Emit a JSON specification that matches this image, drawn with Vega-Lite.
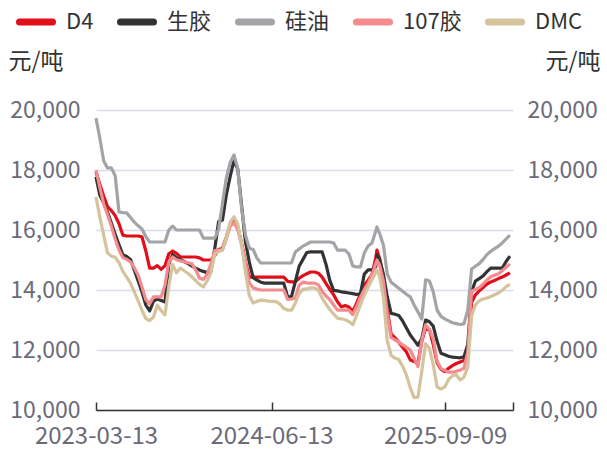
{
  "$schema": "https://vega.github.io/schema/vega-lite/v6.json",
  "width": 417,
  "height": 300,
  "autosize": {"type": "none"},
  "padding": {"left": 96, "top": 110, "right": 94, "bottom": 42},
  "background": "white",
  "config": {
    "view": {"stroke": null},
    "font": "Noto Sans CJK SC",
    "axis": {"labelFont": "Noto Sans CJK SC", "titleFont": "Noto Sans CJK SC"},
    "legend": {"labelFont": "Noto Sans CJK SC"}
  },
  "data": {
    "values": [
      {"date": "2023-03-13", "D4": 17930, "生胶": 17770, "硅油": 19730, "107胶": 18000, "DMC": 17100},
      {"date": "2023-03-23", "D4": 17520, "生胶": 17160, "硅油": 19060, "107胶": 17420, "DMC": 16430},
      {"date": "2023-04-02", "D4": 17130, "生胶": 16910, "硅油": 18310, "107胶": 16870, "DMC": 15830},
      {"date": "2023-04-12", "D4": 16780, "生胶": 16600, "硅油": 18070, "107胶": 16520, "DMC": 15240},
      {"date": "2023-04-22", "D4": 16650, "生胶": 16230, "硅油": 18070, "107胶": 16130, "DMC": 15130},
      {"date": "2023-05-02", "D4": 16480, "生胶": 15860, "硅油": 17810, "107胶": 15700, "DMC": 15090},
      {"date": "2023-05-12", "D4": 16210, "生胶": 15510, "硅油": 16600, "107胶": 15330, "DMC": 14910},
      {"date": "2023-05-22", "D4": 15830, "生胶": 15180, "硅油": 16580, "107胶": 15080, "DMC": 14620},
      {"date": "2023-06-01", "D4": 15800, "生胶": 15120, "硅油": 16570, "107胶": 15020, "DMC": 14430},
      {"date": "2023-06-11", "D4": 15800, "生胶": 15020, "硅油": 16420, "107胶": 14940, "DMC": 14230},
      {"date": "2023-06-21", "D4": 15800, "生胶": 14660, "硅油": 16260, "107胶": 14740, "DMC": 13940},
      {"date": "2023-07-01", "D4": 15800, "生胶": 14300, "硅油": 16140, "107胶": 14490, "DMC": 13640},
      {"date": "2023-07-11", "D4": 15770, "生胶": 13930, "硅油": 16030, "107胶": 14100, "DMC": 13320},
      {"date": "2023-07-21", "D4": 15300, "生胶": 13500, "硅油": 15780, "107胶": 13680, "DMC": 13050},
      {"date": "2023-07-31", "D4": 14730, "生胶": 13300, "硅油": 15600, "107胶": 13540, "DMC": 12980},
      {"date": "2023-08-10", "D4": 14730, "生胶": 13630, "硅油": 15600, "107胶": 13770, "DMC": 13100},
      {"date": "2023-08-20", "D4": 14810, "生胶": 13700, "硅油": 15600, "107胶": 13770, "DMC": 13490},
      {"date": "2023-08-30", "D4": 14690, "生胶": 13650, "硅油": 15600, "107胶": 13770, "DMC": 13310},
      {"date": "2023-09-09", "D4": 14810, "生胶": 13600, "硅油": 15600, "107胶": 14170, "DMC": 13170},
      {"date": "2023-09-19", "D4": 15210, "生胶": 14870, "硅油": 16000, "107胶": 14930, "DMC": 14130},
      {"date": "2023-09-29", "D4": 15300, "生胶": 15180, "硅油": 16130, "107胶": 15100, "DMC": 14850},
      {"date": "2023-10-09", "D4": 15220, "生胶": 15070, "硅油": 16000, "107胶": 15010, "DMC": 14570},
      {"date": "2023-10-19", "D4": 15100, "生胶": 15010, "硅油": 16000, "107胶": 14970, "DMC": 14730},
      {"date": "2023-10-29", "D4": 15100, "生胶": 14950, "硅油": 16000, "107胶": 14940, "DMC": 14640},
      {"date": "2023-11-08", "D4": 15100, "生胶": 14880, "硅油": 16000, "107胶": 14910, "DMC": 14550},
      {"date": "2023-11-18", "D4": 15100, "生胶": 14800, "硅油": 16000, "107胶": 14880, "DMC": 14440},
      {"date": "2023-11-28", "D4": 15100, "生胶": 14730, "硅油": 16000, "107胶": 14670, "DMC": 14310},
      {"date": "2023-12-08", "D4": 15070, "生胶": 14670, "硅油": 16000, "107胶": 14400, "DMC": 14190},
      {"date": "2023-12-18", "D4": 15000, "生胶": 14620, "硅油": 15730, "107胶": 14350, "DMC": 14100},
      {"date": "2023-12-28", "D4": 15000, "生胶": 14580, "硅油": 15730, "107胶": 14520, "DMC": 14300},
      {"date": "2024-01-07", "D4": 15000, "生胶": 14630, "硅油": 15730, "107胶": 14870, "DMC": 14580},
      {"date": "2024-01-17", "D4": 15150, "生胶": 15390, "硅油": 15730, "107胶": 15310, "DMC": 15200},
      {"date": "2024-01-27", "D4": 15350, "生胶": 16280, "硅油": 16030, "107胶": 15330, "DMC": 15280},
      {"date": "2024-02-06", "D4": 15390, "生胶": 16330, "硅油": 16880, "107胶": 15330, "DMC": 15330},
      {"date": "2024-02-16", "D4": 15770, "生胶": 17170, "硅油": 17740, "107胶": 15700, "DMC": 15760},
      {"date": "2024-02-26", "D4": 16190, "生胶": 17780, "硅油": 18240, "107胶": 16120, "DMC": 16250},
      {"date": "2024-03-07", "D4": 16310, "生胶": 18320, "硅油": 18500, "107胶": 16240, "DMC": 16440},
      {"date": "2024-03-17", "D4": 16080, "生胶": 18020, "硅油": 18030, "107胶": 16010, "DMC": 16200},
      {"date": "2024-03-27", "D4": 15550, "生胶": 16800, "硅油": 16710, "107胶": 15510, "DMC": 15490},
      {"date": "2024-04-06", "D4": 14930, "生胶": 15600, "硅油": 15830, "107胶": 14910, "DMC": 14590},
      {"date": "2024-04-16", "D4": 14430, "生胶": 14930, "硅油": 15390, "107胶": 14240, "DMC": 13820},
      {"date": "2024-04-26", "D4": 14430, "生胶": 14410, "硅油": 15350, "107胶": 14070, "DMC": 13570},
      {"date": "2024-05-06", "D4": 14430, "生胶": 14330, "硅油": 15060, "107胶": 14030, "DMC": 13620},
      {"date": "2024-05-16", "D4": 14430, "生胶": 14260, "硅油": 14900, "107胶": 14000, "DMC": 13660},
      {"date": "2024-05-26", "D4": 14430, "生胶": 14230, "硅油": 14900, "107胶": 14000, "DMC": 13650},
      {"date": "2024-06-05", "D4": 14430, "生胶": 14230, "硅油": 14900, "107胶": 14000, "DMC": 13630},
      {"date": "2024-06-15", "D4": 14430, "生胶": 14230, "硅油": 14900, "107胶": 14000, "DMC": 13620},
      {"date": "2024-06-25", "D4": 14430, "生胶": 14230, "硅油": 14900, "107胶": 14000, "DMC": 13610},
      {"date": "2024-07-05", "D4": 14430, "生胶": 14230, "硅油": 14900, "107胶": 14000, "DMC": 13530},
      {"date": "2024-07-15", "D4": 14430, "生胶": 14230, "硅油": 14900, "107胶": 14000, "DMC": 13380},
      {"date": "2024-07-25", "D4": 14290, "生胶": 13770, "硅油": 14900, "107胶": 13690, "DMC": 13330},
      {"date": "2024-08-04", "D4": 14270, "生胶": 13770, "硅油": 14900, "107胶": 13700, "DMC": 13330},
      {"date": "2024-08-14", "D4": 14270, "生胶": 14280, "硅油": 15270, "107胶": 13730, "DMC": 13560},
      {"date": "2024-08-24", "D4": 14390, "生胶": 14790, "硅油": 15370, "107胶": 14160, "DMC": 13880},
      {"date": "2024-09-03", "D4": 14480, "生胶": 15020, "硅油": 15460, "107胶": 14260, "DMC": 14020},
      {"date": "2024-09-13", "D4": 14540, "生胶": 15250, "硅油": 15530, "107胶": 14240, "DMC": 14040},
      {"date": "2024-09-23", "D4": 14600, "生胶": 15270, "硅油": 15600, "107胶": 14230, "DMC": 14070},
      {"date": "2024-10-03", "D4": 14600, "生胶": 15270, "硅油": 15600, "107胶": 14230, "DMC": 14070},
      {"date": "2024-10-13", "D4": 14560, "生胶": 15270, "硅油": 15600, "107胶": 14170, "DMC": 13990},
      {"date": "2024-10-23", "D4": 14430, "生胶": 15270, "硅油": 15600, "107胶": 13960, "DMC": 13730},
      {"date": "2024-11-02", "D4": 14220, "生胶": 14860, "硅油": 15600, "107胶": 13800, "DMC": 13530},
      {"date": "2024-11-12", "D4": 14020, "生胶": 14320, "硅油": 15600, "107胶": 13680, "DMC": 13350},
      {"date": "2024-11-22", "D4": 13840, "生胶": 13990, "硅油": 15570, "107胶": 13500, "DMC": 13200},
      {"date": "2024-12-02", "D4": 13610, "生胶": 13970, "硅油": 15330, "107胶": 13330, "DMC": 13060},
      {"date": "2024-12-12", "D4": 13440, "生胶": 13940, "硅油": 15330, "107胶": 13330, "DMC": 13040},
      {"date": "2024-12-22", "D4": 13480, "生胶": 13920, "硅油": 15330, "107胶": 13330, "DMC": 13010},
      {"date": "2025-01-01", "D4": 13430, "生胶": 13900, "硅油": 15200, "107胶": 13330, "DMC": 12950},
      {"date": "2025-01-11", "D4": 13280, "生胶": 13880, "硅油": 14800, "107胶": 13180, "DMC": 12840},
      {"date": "2025-01-21", "D4": 13560, "生胶": 13850, "硅油": 14770, "107胶": 13450, "DMC": 13160},
      {"date": "2025-01-31", "D4": 13870, "生胶": 13880, "硅油": 14770, "107胶": 13760, "DMC": 13510},
      {"date": "2025-02-10", "D4": 14160, "生胶": 14530, "硅油": 15230, "107胶": 14020, "DMC": 13820},
      {"date": "2025-02-20", "D4": 14330, "生胶": 14670, "硅油": 15470, "107胶": 14220, "DMC": 14090},
      {"date": "2025-03-02", "D4": 14510, "生胶": 14670, "硅油": 15570, "107胶": 14500, "DMC": 14340},
      {"date": "2025-03-12", "D4": 15080, "生胶": 14780, "硅油": 15970, "107胶": 14880, "DMC": 14590},
      {"date": "2025-03-15", "D4": 15330, "生胶": 15170, "硅油": 16100, "107胶": 15000, "DMC": 14670},
      {"date": "2025-03-22", "D4": 15050, "生胶": 15020, "硅油": 15880, "107胶": 14830, "DMC": 14450},
      {"date": "2025-04-01", "D4": 14410, "生胶": 14520, "硅油": 15490, "107胶": 14300, "DMC": 13750},
      {"date": "2025-04-11", "D4": 13340, "生胶": 13770, "硅油": 14530, "107胶": 13210, "DMC": 12300},
      {"date": "2025-04-21", "D4": 12530, "生胶": 13220, "硅油": 14260, "107胶": 12410, "DMC": 11820},
      {"date": "2025-05-01", "D4": 12410, "生胶": 13190, "硅油": 14160, "107胶": 12340, "DMC": 11730},
      {"date": "2025-05-11", "D4": 12260, "生胶": 13150, "硅油": 14060, "107胶": 12260, "DMC": 11680},
      {"date": "2025-05-21", "D4": 12090, "生胶": 12970, "硅油": 13960, "107胶": 12170, "DMC": 11460},
      {"date": "2025-05-31", "D4": 11930, "生胶": 12730, "硅油": 13860, "107胶": 12090, "DMC": 11160},
      {"date": "2025-06-10", "D4": 11670, "生胶": 12500, "硅油": 13770, "107胶": 12000, "DMC": 10740},
      {"date": "2025-06-20", "D4": 11620, "生胶": 12330, "硅油": 13500, "107胶": 11720, "DMC": 10410},
      {"date": "2025-06-30", "D4": 11570, "生胶": 12160, "硅油": 13270, "107胶": 11450, "DMC": 10430},
      {"date": "2025-07-10", "D4": 12290, "生胶": 12370, "硅油": 13030, "107胶": 12310, "DMC": 11290},
      {"date": "2025-07-20", "D4": 12740, "生胶": 13000, "硅油": 14340, "107胶": 12840, "DMC": 12210},
      {"date": "2025-07-30", "D4": 12680, "生胶": 12940, "硅油": 14300, "107胶": 12680, "DMC": 12050},
      {"date": "2025-08-09", "D4": 12180, "生胶": 12790, "硅油": 13930, "107胶": 12360, "DMC": 11500},
      {"date": "2025-08-19", "D4": 11570, "生胶": 12290, "硅油": 13330, "107胶": 11620, "DMC": 10770},
      {"date": "2025-08-29", "D4": 11360, "生胶": 11890, "硅油": 13120, "107胶": 11390, "DMC": 10700},
      {"date": "2025-09-08", "D4": 11280, "生胶": 11840, "硅油": 13040, "107胶": 11320, "DMC": 10770},
      {"date": "2025-09-18", "D4": 11390, "生胶": 11790, "硅油": 12970, "107胶": 11260, "DMC": 11020},
      {"date": "2025-09-28", "D4": 11480, "生胶": 11760, "硅油": 12910, "107胶": 11260, "DMC": 11140},
      {"date": "2025-10-08", "D4": 11550, "生胶": 11750, "硅油": 12880, "107胶": 11290, "DMC": 11180},
      {"date": "2025-10-18", "D4": 11600, "生胶": 11740, "硅油": 12850, "107胶": 11330, "DMC": 11000},
      {"date": "2025-10-28", "D4": 11650, "生胶": 11770, "硅油": 12870, "107胶": 11390, "DMC": 11090},
      {"date": "2025-11-07", "D4": 12000, "生胶": 12180, "硅油": 13330, "107胶": 11930, "DMC": 11430},
      {"date": "2025-11-17", "D4": 13580, "生胶": 13950, "硅油": 14700, "107胶": 13960, "DMC": 13130},
      {"date": "2025-11-27", "D4": 13840, "生胶": 14300, "硅油": 14790, "107胶": 14020, "DMC": 13510},
      {"date": "2025-12-07", "D4": 13970, "生胶": 14380, "硅油": 14880, "107胶": 14080, "DMC": 13640},
      {"date": "2025-12-17", "D4": 14080, "生胶": 14470, "硅油": 15020, "107胶": 14200, "DMC": 13700},
      {"date": "2025-12-27", "D4": 14200, "生胶": 14610, "硅油": 15180, "107胶": 14330, "DMC": 13730},
      {"date": "2026-01-06", "D4": 14270, "生胶": 14730, "硅油": 15290, "107胶": 14440, "DMC": 13780},
      {"date": "2026-01-16", "D4": 14320, "生胶": 14730, "硅油": 15380, "107胶": 14490, "DMC": 13840},
      {"date": "2026-01-26", "D4": 14380, "生胶": 14730, "硅油": 15460, "107胶": 14540, "DMC": 13900},
      {"date": "2026-02-05", "D4": 14430, "生胶": 14730, "硅油": 15570, "107胶": 14640, "DMC": 13990},
      {"date": "2026-02-15", "D4": 14500, "生胶": 14950, "硅油": 15700, "107胶": 14760, "DMC": 14110},
      {"date": "2026-02-25", "D4": 14570, "生胶": 15130, "硅油": 15830, "107胶": 14870, "DMC": 14190}
    ]
  },
  "transform": [
    {"fold": ["D4", "生胶", "硅油", "107胶", "DMC"], "as": ["series", "price"]}
  ],
  "layer": [
    {
      "mark": {"type": "line", "strokeWidth": 3.2, "strokeJoin": "round"},
      "encoding": {
        "x": {
          "field": "date",
          "type": "temporal",
          "scale": {"domain": [{"year": 2023, "month": 3, "date": 13}, {"year": 2026, "month": 3, "date": 5}]},
          "axis": {
            "title": null,
            "grid": false,
            "values": [
              {"year": 2023, "month": 3, "date": 13},
              {"year": 2024, "month": 6, "date": 13},
              {"year": 2025, "month": 9, "date": 9},
              {"year": 2026, "month": 3, "date": 5}
            ],
            "labelExpr": "year(datum.value) == 2026 ? '' : timeFormat(datum.value, '%Y-%m-%d')",
            "labelFontSize": 24,
            "labelColor": "#6b6b78",
            "labelFlush": false,
            "labelOverlap": false,
            "labelBaseline": "middle",
            "labelPadding": 34,
            "domainColor": "#333333",
            "domainWidth": 1.5,
            "tickColor": "#333333",
            "tickWidth": 1.5,
            "tickSize": -8
          }
        },
        "y": {
          "field": "price",
          "type": "quantitative",
          "scale": {"domain": [10000, 20000], "nice": false},
          "axis": {
            "orient": "left",
            "values": [10000, 12000, 14000, 16000, 18000, 20000],
            "format": ",d",
            "labelFontSize": 23,
            "labelColor": "#6b6b78",
            "labelPadding": 16,
            "domain": false,
            "ticks": false,
            "grid": true,
            "gridColor": "#d9dcea",
            "gridWidth": 1.5,
            "title": "元/吨",
            "titleAngle": 0,
            "titleFontSize": 23,
            "titleFontWeight": "normal",
            "titleColor": "#333333",
            "titleAlign": "left",
            "titleBaseline": "middle",
            "titleX": -88,
            "titleY": -49
          }
        },
        "color": {
          "field": "series",
          "type": "nominal",
          "sort": ["D4", "生胶", "硅油", "107胶", "DMC"],
          "scale": {
            "domain": ["D4", "生胶", "硅油", "107胶", "DMC"],
            "range": ["#e20f1a", "#333333", "#a2a4a7", "#f48b8f", "#d5c39d"]
          },
          "legend": {
            "title": null,
            "orient": "none",
            "direction": "horizontal",
            "legendX": -80,
            "legendY": -108,
            "symbolType": "stroke",
            "symbolSize": 1089,
            "symbolStrokeWidth": 7,
            "labelFontSize": 22,
            "labelColor": "#333333",
            "labelOffset": 10,
            "columnPadding": 12,
            "encode": {"symbols": {"update": {"strokeCap": {"value": "round"}}}}
          }
        }
      }
    },
    {
      "mark": {"type": "line", "opacity": 0},
      "encoding": {
        "x": {"field": "date", "type": "temporal"},
        "y": {
          "field": "price",
          "type": "quantitative",
          "scale": {"domain": [10000, 20000], "nice": false},
          "axis": {
            "orient": "right",
            "values": [10000, 12000, 14000, 16000, 18000, 20000],
            "format": ",d",
            "labelFontSize": 23,
            "labelColor": "#6b6b78",
            "labelPadding": 14,
            "domain": false,
            "ticks": false,
            "grid": false,
            "title": "元/吨",
            "titleAngle": 0,
            "titleFontSize": 23,
            "titleFontWeight": "normal",
            "titleColor": "#333333",
            "titleAlign": "right",
            "titleBaseline": "middle",
            "titleX": 87,
            "titleY": -49
          }
        },
        "detail": {"field": "series"}
      }
    }
  ],
  "resolve": {"scale": {"y": "independent"}}
}
